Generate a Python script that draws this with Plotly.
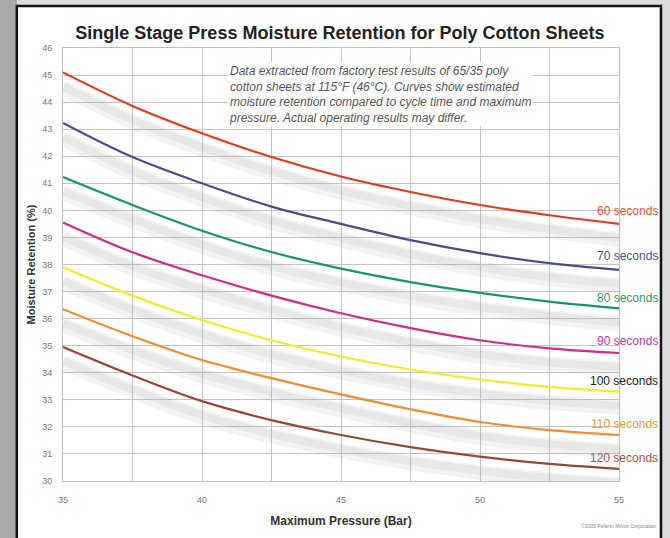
import plotly.graph_objects as go

# pressure (bar) where the curves were read
pressure = [35, 37.5, 40, 42.5, 45, 47.5, 50, 52.5, 55]

# moisture retention (%) per cycle time
ret_60 = [45.1, 43.86, 42.85, 41.97, 41.25, 40.68, 40.2, 39.82, 39.5]
ret_70 = [43.23, 41.97, 41.0, 40.14, 39.5, 38.9, 38.42, 38.05, 37.8]
ret_80 = [41.23, 40.2, 39.25, 38.46, 37.85, 37.35, 36.95, 36.63, 36.38]
ret_90 = [39.55, 38.45, 37.6, 36.85, 36.2, 35.65, 35.2, 34.9, 34.73]
ret_100 = [37.9, 36.85, 35.95, 35.2, 34.6, 34.12, 33.75, 33.48, 33.3]
ret_110 = [36.35, 35.35, 34.47, 33.8, 33.2, 32.65, 32.18, 31.88, 31.7]
ret_120 = [34.95, 33.9, 32.95, 32.25, 31.7, 31.25, 30.9, 30.63, 30.45]

curve_names = ["60 seconds", "70 seconds", "80 seconds", "90 seconds",
               "100 seconds", "110 seconds", "120 seconds"]
curve_values = [ret_60, ret_70, ret_80, ret_90, ret_100, ret_110, ret_120]
label_y = [39.98, 38.31, 36.76, 35.17, 33.69, 32.1, 30.85]

line_colors = ["#e8371f", "#4a4d8c", "#169a5c", "#d42a83",
               "#f2ee22", "#f28c2c", "#95483a"]
label_colors = ["#e9502f", "#4b5093", "#2f9a62", "#b9389c",
                "#222222", "#f2952f", "#a0533f"]

fig = go.Figure()

# soft grey shadow under each curve
for vals in curve_values:
    fig.add_trace(go.Scatter(
        x=pressure, y=[v - 0.58 for v in vals], mode="lines",
        line=dict(color="rgba(160,160,160,0.13)", width=15, shape="spline"),
        hoverinfo="skip", showlegend=False))
    fig.add_trace(go.Scatter(
        x=pressure, y=[v - 0.52 for v in vals], mode="lines",
        line=dict(color="rgba(160,160,160,0.13)", width=8, shape="spline"),
        hoverinfo="skip", showlegend=False))

for name, vals, col in zip(curve_names, curve_values, line_colors):
    fig.add_trace(go.Scatter(
        x=pressure, y=vals, mode="lines", name=name,
        line=dict(color=col, width=2.2, shape="spline"),
        showlegend=False))

annotations = []
for name, ly, col in zip(curve_names, label_y, label_colors):
    annotations.append(dict(
        x=1.074, xref="paper", y=ly, yref="y", text=name, showarrow=False,
        xanchor="right", yanchor="middle",
        font=dict(family="Liberation Sans, Arial", size=12, color=col)))

annotations.append(dict(
    x=0.295, xref="paper", y=0.968, yref="paper", xanchor="left", yanchor="top",
    text=("Data extracted from factory test results of 65/35 poly<br>"
          "cotton sheets at 115°F (46°C). Curves show estimated<br>"
          "moisture retention compared to cycle time and maximum<br>"
          "pressure. Actual operating results may differ."),
    align="left", showarrow=False, bgcolor="white", borderpad=1,
    font=dict(family="Liberation Sans, Arial", size=12, color="#555555", style="italic")))

annotations.append(dict(
    x=1.072, xref="paper", y=-0.105, yref="paper", xanchor="right", yanchor="middle",
    text="©2005 Pellerin Milnor Corporation", showarrow=False,
    font=dict(family="Liberation Sans, Arial", size=5, color="#888888")))

# frame: grey page with a black bordered white card
shapes = [
    dict(type="rect", xref="paper", yref="paper", x0=-0.12, x1=-0.0829,
         y0=-0.2, y1=1.12, fillcolor="#a9a9a9", line=dict(width=0), layer="below"),
    dict(type="rect", xref="paper", yref="paper", x0=-0.0831, x1=1.0755,
         y0=-0.2, y1=1.097, fillcolor="white",
         line=dict(color="#111111", width=2.5), layer="below"),
]

fig.update_layout(
    width=670, height=538,
    margin=dict(l=63, r=51, t=48, b=57),
    paper_bgcolor="#dcdcdc",
    plot_bgcolor="white",
    title=dict(
        text="<b>Single Stage Press Moisture Retention for Poly Cotton Sheets</b>",
        x=0.498, xref="paper", xanchor="center", y=0.94, yanchor="middle",
        font=dict(family="Liberation Sans, Arial, sans-serif", size=18, color="#222222")),
    xaxis=dict(
        range=[35, 55], dtick=5, tick0=35,
        showgrid=True, gridcolor="#c4c4c4", gridwidth=1,
        minor=dict(dtick=2.5, showgrid=True, gridcolor="#c4c4c4", gridwidth=1),
        showline=True, linecolor="#bdbdbd", mirror=True, zeroline=False,
        ticks="", ticklabelstandoff=10, automargin=False,
        tickfont=dict(family="Liberation Sans, Arial", size=9, color="#777777"),
        title=dict(text="<b>Maximum Pressure (Bar)</b>", standoff=12,
                   font=dict(family="Liberation Sans, Arial", size=12, color="#333333"))),
    yaxis=dict(
        range=[30, 46], dtick=1,
        showgrid=True, gridcolor="#c4c4c4", gridwidth=1,
        showline=True, linecolor="#bdbdbd", mirror=True, zeroline=False,
        ticks="", ticklabelstandoff=8, automargin=False,
        tickfont=dict(family="Liberation Sans, Arial", size=9, color="#777777"),
        title=dict(text="<b>Moisture Retention (%)</b>", standoff=4,
                   font=dict(family="Liberation Sans, Arial", size=11, color="#333333"))),
    annotations=annotations,
    shapes=shapes,
)

# the page body has a default 8px margin; drop it so the figure fills the window
fig.write_html("out.html", config={"displayModeBar": False},
               post_script="document.body.style.margin='0';")
